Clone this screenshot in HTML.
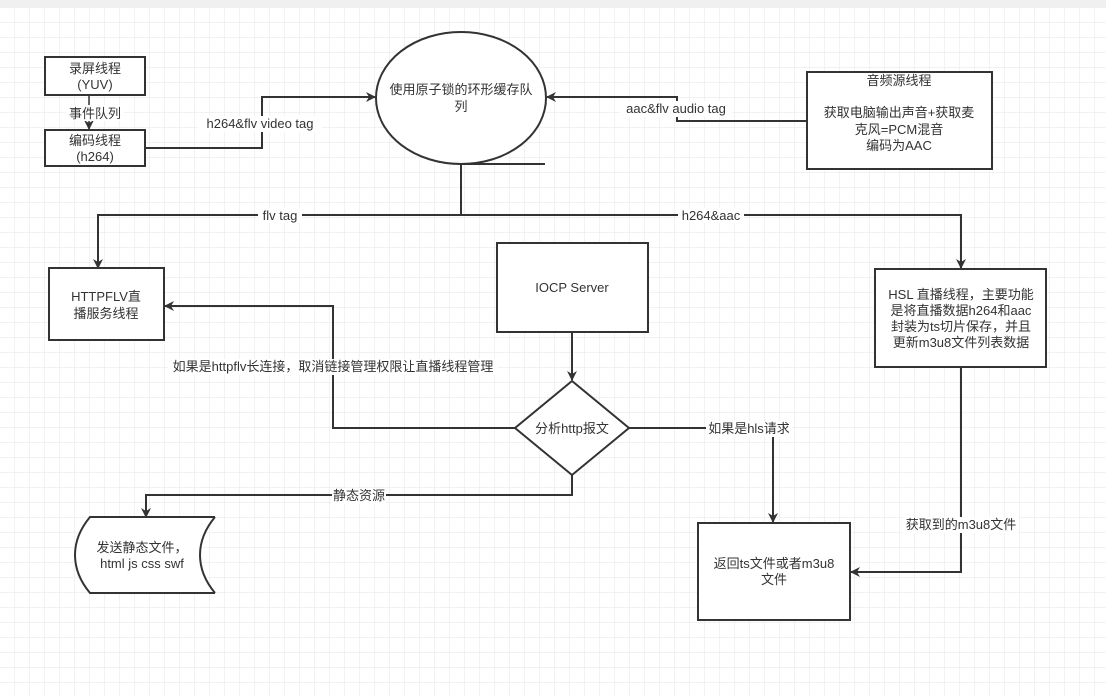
<!DOCTYPE html>
<html><head><meta charset="utf-8"><style>
html,body{margin:0;padding:0;background:#fff;}
svg{display:block;}
text{font-family:"Liberation Sans","Noto Sans CJK SC",sans-serif;font-size:13px;fill:#333;}
</style></head><body>
<svg width="1106" height="696" viewBox="0 0 1106 696" xmlns="http://www.w3.org/2000/svg">
<defs>
<pattern id="g" x="0" y="8" width="15" height="15" patternUnits="userSpaceOnUse">
<path d="M15 0V15H0" fill="none" stroke="#e6e6e6" stroke-width="1"/>
</pattern>
<marker id="a" markerWidth="10" markerHeight="10" refX="9" refY="5" orient="auto" markerUnits="userSpaceOnUse">
<path d="M0,0 L10,5 L0,10 L3,5 Z" fill="#333"/>
</marker>
</defs>
<rect width="1106" height="696" fill="#fff"/>
<rect y="8" width="1106" height="688" fill="url(#g)"/>
<rect width="1106" height="8" fill="#f0f0f0"/>
<g fill="none" stroke="#333" stroke-width="2">
<rect x="45" y="57" width="100" height="38" fill="#fff"/>
<rect x="45" y="130" width="100" height="36" fill="#fff"/>
<line x1="89" y1="95" x2="89" y2="129" stroke-width="1.5" marker-end="url(#a)"/>
<ellipse cx="461" cy="98" rx="85" ry="66" fill="#fff"/>
<polyline points="145,148 262,148 262,97 375,97" marker-end="url(#a)"/>
<rect x="807" y="72" width="185" height="97" fill="#fff"/>
<polyline points="807,121 677,121 677,97 547,97" marker-end="url(#a)"/>
<line x1="461" y1="164" x2="545" y2="164"/>
<line x1="461" y1="164" x2="461" y2="215"/>
<polyline points="98,267 98,215 961,215 961,268" marker-end="url(#a)"/>
<line x1="98" y1="225" x2="98" y2="268" marker-end="url(#a)"/>
<rect x="49" y="268" width="115" height="72" fill="#fff"/>
<rect x="497" y="243" width="151" height="89" fill="#fff"/>
<line x1="572" y1="332" x2="572" y2="380" marker-end="url(#a)"/>
<polygon points="572,381 629,428 572,475 515,428" fill="#fff"/>
<polyline points="515,428 333,428 333,306 165,306" marker-end="url(#a)"/>
<polyline points="629,428 773,428 773,522" marker-end="url(#a)"/>
<polyline points="572,475 572,495 146,495 146,517" marker-end="url(#a)"/>
<path d="M90,517 L215,517 Q200,535 200,555 Q200,575 215,593 L90,593 Q75,575 75,555 Q75,535 90,517 Z" fill="#fff" stroke="none"/>
<path d="M215,517 L90,517 Q75,535 75,555 Q75,575 90,593 L215,593 M215,517 Q200,535 200,555 Q200,575 215,593"/>
<rect x="875" y="269" width="171" height="98" fill="#fff"/>
<polyline points="961,367 961,572 851,572" marker-end="url(#a)"/>
<rect x="698" y="523" width="152" height="97" fill="#fff"/>
</g>
<g text-anchor="middle">
<text x="95" y="73">录屏线程</text><text x="95" y="89">(YUV)</text>
<rect x="66" y="105" width="58" height="16" fill="#fff"/><text x="95" y="118">事件队列</text>
<text x="95" y="145">编码线程</text><text x="95" y="161">(h264)</text>
<rect x="198" y="116" width="124" height="16" fill="#fff"/><text x="260" y="128">h264&amp;flv video tag</text>
<text x="461" y="94">使用原子锁的环形缓存队</text><text x="461" y="111">列</text>
<rect x="620" y="101" width="112" height="16" fill="#fff"/><text x="676" y="113">aac&amp;flv audio tag</text>
<text x="899" y="85">音频源线程</text>
<text x="899" y="117">获取电脑输出声音+获取麦</text>
<text x="899" y="134">克风=PCM混音</text>
<text x="899" y="150">编码为AAC</text>
<rect x="258" y="208" width="44" height="15" fill="#fff"/><text x="280" y="220">flv tag</text>
<rect x="678" y="208" width="66" height="15" fill="#fff"/><text x="711" y="220">h264&amp;aac</text>
<text x="106" y="301">HTTPFLV直</text><text x="106" y="318">播服务线程</text>
<text x="572" y="292">IOCP Server</text>
<rect x="168" y="359" width="330" height="16" fill="#fff"/><text x="333" y="371">如果是httpflv长连接，取消链接管理权限让直播线程管理</text>
<text x="572" y="433">分析http报文</text>
<rect x="706" y="421" width="86" height="16" fill="#fff"/><text x="749" y="433">如果是hls请求</text>
<rect x="332" y="488" width="54" height="16" fill="#fff"/><text x="359" y="500">静态资源</text>
<text x="142" y="552">发送静态文件，</text><text x="142" y="568">html js css swf</text>
<text x="961" y="299">HSL 直播线程，主要功能</text>
<text x="961" y="315">是将直播数据h264和aac</text>
<text x="961" y="331">封装为ts切片保存，并且</text>
<text x="961" y="347">更新m3u8文件列表数据</text>
<rect x="903" y="517" width="116" height="16" fill="#fff"/><text x="961" y="529">获取到的m3u8文件</text>
<text x="774" y="568">返回ts文件或者m3u8</text><text x="774" y="584">文件</text>
</g>
</svg>
</body></html>
